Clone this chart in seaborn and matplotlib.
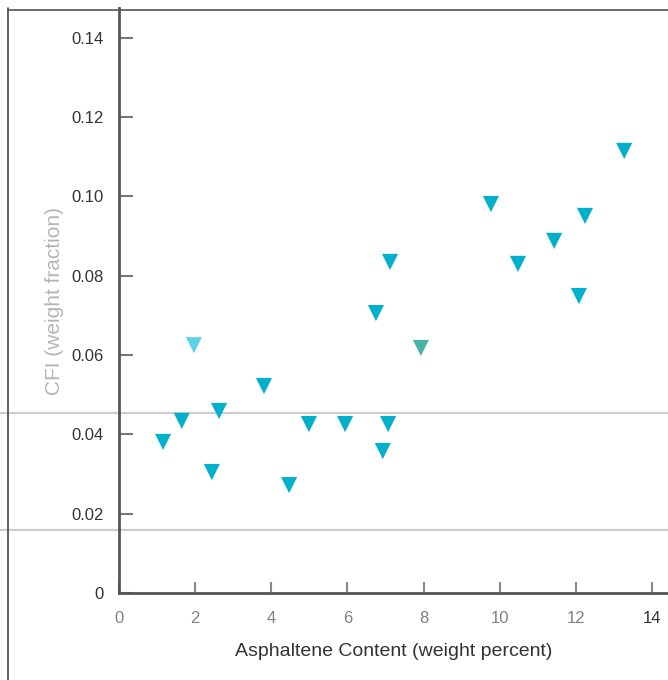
import matplotlib
matplotlib.use("Agg")
import matplotlib.pyplot as plt
import seaborn as sns
import pandas as pd
from matplotlib.lines import Line2D

# Data
asphaltene = [1.16, 1.65, 1.97, 2.44, 2.63, 3.81, 4.47, 4.99, 5.94, 6.75,
              6.93, 7.07, 7.12, 7.93, 9.77, 10.48, 11.43, 12.08, 12.24, 13.27]
cfi = [0.0381, 0.0434, 0.0625, 0.0305, 0.0459, 0.0522, 0.0272, 0.0426, 0.0426, 0.0706,
       0.0358, 0.0426, 0.0835, 0.0618, 0.0981, 0.0830, 0.0888, 0.0749, 0.0951, 0.1115]
group = ["a", "a", "b", "a", "a", "a", "a", "a", "a", "a",
         "a", "a", "a", "c", "a", "a", "a", "a", "a", "a"]
x_ticks = [0, 2, 4, 6, 8, 10, 12, 14]
y_ticks = [0, 0.02, 0.04, 0.06, 0.08, 0.10, 0.12, 0.14]
y_tick_labels = ["0", "0.02", "0.04", "0.06", "0.08", "0.10", "0.12", "0.14"]

df = pd.DataFrame({"asph": asphaltene, "cfi": cfi, "grp": group})

sns.set_theme(style="white")
plt.rcParams["font.family"] = ["Liberation Sans", "DejaVu Sans"]

fig = plt.figure(figsize=(6.68, 6.80), dpi=100)
ax = fig.add_axes([0.178, 0.128, 0.822, 0.860])
ax.set_facecolor("none")

# scan artifacts / frame
for yy in [413, 530]:
    fig.add_artist(Line2D([0, 1], [1 - yy / 680, 1 - yy / 680], color="#cdcdcd", lw=1.6,
                          transform=fig.transFigure, zorder=0))
fig.add_artist(Line2D([8 / 668, 8 / 668], [0, 1 - 8 / 680], color="#444444", lw=1.2,
                      transform=fig.transFigure))
fig.add_artist(Line2D([8 / 668, 1], [1 - 10 / 680, 1 - 10 / 680], color="#555555", lw=1.2,
                      transform=fig.transFigure))

palette = {"a": "#00b0cc", "b": "#5cd2ea", "c": "#48b3a6"}
sns.scatterplot(data=df, x="asph", y="cfi", hue="grp", palette=palette, marker="v",
                s=135, edgecolor="none", legend=False, ax=ax, zorder=3)

ax.set_xlim(0, 14.42)
ax.set_ylim(0, 0.1475)
ax.set_xticks(x_ticks)
ax.set_yticks(y_ticks)
ax.set_yticklabels(y_tick_labels)

for side in ["top", "right"]:
    ax.spines[side].set_visible(False)
for side in ["left", "bottom"]:
    ax.spines[side].set_color("#555555")
    ax.spines[side].set_linewidth(2)

ax.tick_params(axis="x", which="major", bottom=True, direction="in", length=8, width=1.5,
               color="#888888", labelsize=12, labelcolor="#808080", pad=13)
ax.tick_params(axis="y", which="major", left=True, direction="in", length=10, width=1.5,
               color="#777777", labelsize=12, labelcolor="#333333", pad=11)
ax.set_xticklabels([str(t) for t in x_ticks])
ax.get_xticklabels()[-1].set_color("#333333")

ax.set_xlabel("Asphaltene Content (weight percent)", fontsize=14, color="#333333", labelpad=12)
ax.set_ylabel("CFI (weight fraction)", fontsize=15, color="#b5b5b5", labelpad=5)

fig.savefig("out.png", dpi=100)
